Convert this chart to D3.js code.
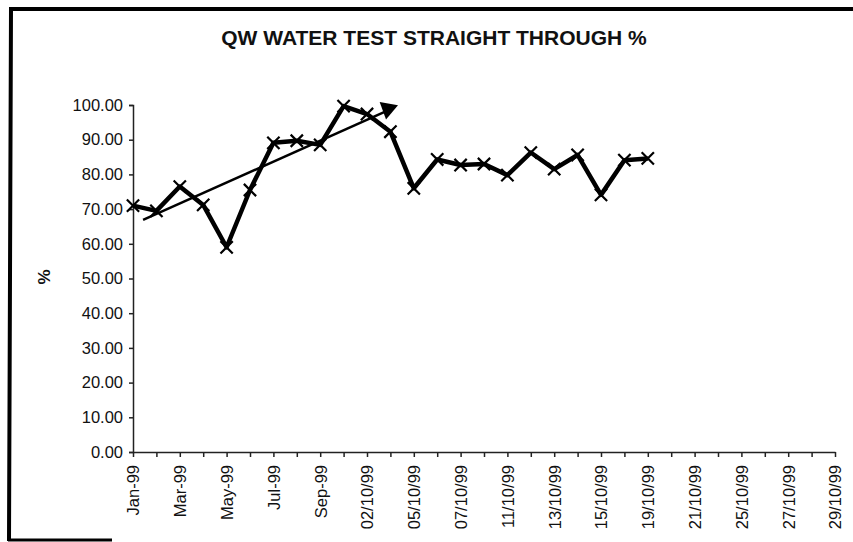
<!DOCTYPE html>
<html>
<head>
<meta charset="utf-8">
<script src="https://cdn.jsdelivr.net/npm/d3@7"></script>
<style>
  body { margin: 0; background: #fff; }
  svg text { font-family: "Liberation Sans", Arial, sans-serif; fill: #111; }
</style>
</head>
<body>
<svg id="chart" width="853" height="542"></svg>
<script>
"use strict";

var title = "QW WATER TEST STRAIGHT THROUGH %";
var yLabel = "%";
var categories = ["Jan-99","Feb-99","Mar-99","Apr-99","May-99","Jun-99","Jul-99","Aug-99","Sep-99",
	"01/10/99","02/10/99","04/10/99","05/10/99","06/10/99","07/10/99","08/10/99",
	"11/10/99","12/10/99","13/10/99","14/10/99","15/10/99","18/10/99","19/10/99",
	"20/10/99","21/10/99","22/10/99","25/10/99","26/10/99","27/10/99","28/10/99","29/10/99"];
var straightThrough = [71.0, 69.5, 76.5, 71.2, 59.0, 75.5, 89.1, 89.7, 88.5, 99.7, 97.4, 92.3,
	76.0, 84.3, 82.7, 83.0, 79.8, 86.3, 81.5, 85.6, 74.1, 84.1, 84.6];
// hand drawn trend arrow (category position, value)
var trendCats = [0.43, 10.85];
var trendValues = [66.9, 98.3];
var yTicks = [0,10,20,30,40,50,60,70,80,90,100];

var svg = d3.select("#chart");

// frame
svg.append("path")
	.attr("d", "M9,541 L11,9 L853,9")
	.attr("fill", "none")
	.attr("stroke", "#000")
	.attr("stroke-width", 4);
svg.append("line")
	.attr("x1", 8).attr("x2", 112).attr("y1", 540).attr("y2", 540)
	.attr("stroke", "#000").attr("stroke-width", 3);

var x = d3.scaleLinear().domain([0, categories.length-1]).range([133, 835]);
var y = d3.scaleLinear().domain([0, 100]).range([452, 105]);

svg.append("text")
	.attr("x", 434).attr("y", 45)
	.attr("text-anchor", "middle")
	.style("font-size", "21px")
	.style("font-weight", "bold")
	.text(title);

svg.append("text")
	.attr("transform", "translate(50,277) rotate(-90)")
	.attr("text-anchor", "middle")
	.style("font-size", "17px")
	.style("font-weight", "bold")
	.text(yLabel);

var yAxis = svg.append("g")
	.attr("transform", "translate(133,0)")
	.call(d3.axisLeft(y).tickValues(yTicks).tickSize(4).tickPadding(6).tickFormat(d3.format(".2f")));
yAxis.selectAll("text").style("font-size", "16.5px");

var xAxis = svg.append("g")
	.attr("transform", "translate(0,452)")
	.call(d3.axisBottom(x).tickValues(d3.range(categories.length)).tickSize(5).tickSizeOuter(0)
		.tickFormat(function(i){ return i % 2 === 0 ? categories[i] : ""; }));
xAxis.selectAll("text")
	.style("font-size", "16.5px")
	.attr("text-anchor", "end")
	.attr("transform", "rotate(-90)")
	.attr("x", -13)
	.attr("y", 0)
	.attr("dy", "0.36em");

svg.selectAll(".domain").attr("stroke", "#222").attr("stroke-width", 1.5);
svg.selectAll(".tick line").attr("stroke", "#222").attr("stroke-width", 1.5);

// trend arrow
var trend = trendCats.map(function(c, i){ return [x(c), y(trendValues[i])]; });
svg.append("path")
	.attr("d", d3.line()(trend))
	.attr("fill", "none")
	.attr("stroke", "#000")
	.attr("stroke-width", 2.5);
svg.append("path")
	.attr("d", d3.symbol().type(d3.symbolTriangle).size(150)())
	.attr("transform", "translate(" + (trend[1][0] + 1) + "," + (trend[1][1] - 2) + ") rotate(190)")
	.attr("fill", "#000");

// series line
var line = d3.line()
	.x(function(d, i){ return x(i); })
	.y(function(d){ return y(d); });
svg.append("path")
	.datum(straightThrough)
	.attr("d", line)
	.attr("fill", "none")
	.attr("stroke", "#000")
	.attr("stroke-width", 4.5)
	.attr("stroke-linejoin", "round");

svg.selectAll(".mark")
	.data(straightThrough)
	.enter().append("path")
	.attr("class", "mark")
	.attr("d", d3.symbol().type(d3.symbolTimes).size(100)())
	.attr("transform", function(d, i){ return "translate(" + x(i) + "," + y(d) + ")"; })
	.attr("fill", "none")
	.attr("stroke", "#000")
	.attr("stroke-width", 2.2);
</script>
</body>
</html>
